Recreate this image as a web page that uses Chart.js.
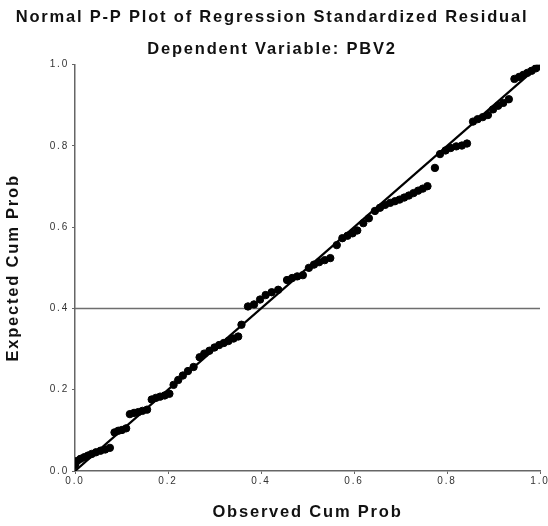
<!DOCTYPE html>
<html>
<head>
<meta charset="utf-8">
<script src="https://cdn.jsdelivr.net/npm/chart.js@4"></script>
<style>
  body { margin: 0; background: #fff; }
  #wrap { width: 548px; height: 526px; }
</style>
</head>
<body>
<div id="wrap"><canvas id="myChart" width="548" height="526"></canvas></div>
<script>
// Observed cum prob (x) and expected cum prob (y)
var observedCum = [
  0.000, 0.005, 0.012, 0.020, 0.028, 0.036, 0.045, 0.055, 0.065, 0.075,
  0.085, 0.093, 0.101, 0.110,
  0.118, 0.127, 0.136, 0.145, 0.155,
  0.165, 0.174, 0.183, 0.193, 0.203,
  0.212, 0.222, 0.232, 0.243, 0.255,
  0.268, 0.278, 0.289, 0.300, 0.310,
  0.320, 0.330, 0.341, 0.351,
  0.358, 0.372, 0.385, 0.398, 0.410, 0.423, 0.437,
  0.456, 0.467, 0.478, 0.490,
  0.503, 0.514, 0.525, 0.537, 0.549,
  0.563, 0.575, 0.586, 0.597, 0.607,
  0.620, 0.632, 0.645, 0.656, 0.667,
  0.678, 0.688, 0.698, 0.708, 0.718, 0.728, 0.738, 0.748, 0.758,
  0.774,
  0.785, 0.797, 0.808, 0.820, 0.832, 0.843,
  0.856, 0.866, 0.877, 0.888,
  0.899, 0.910, 0.921, 0.933,
  0.945, 0.955, 0.964, 0.973, 0.982, 0.991, 1.000
];
var expectedCum = [
  0.015, 0.025, 0.030, 0.034, 0.038, 0.042, 0.046, 0.050, 0.053, 0.057,
  0.095, 0.099, 0.101, 0.105,
  0.140, 0.143, 0.145, 0.148, 0.151,
  0.176, 0.180, 0.183, 0.186, 0.190,
  0.212, 0.224, 0.235, 0.246, 0.256,
  0.280, 0.289, 0.296, 0.304, 0.310,
  0.315, 0.320, 0.326, 0.331,
  0.360, 0.405, 0.410, 0.422, 0.433, 0.440, 0.446,
  0.470, 0.475, 0.479, 0.482,
  0.500, 0.508, 0.514, 0.519, 0.524,
  0.556, 0.573, 0.579, 0.585, 0.592,
  0.610, 0.622, 0.640, 0.648, 0.655,
  0.660, 0.664, 0.668, 0.673, 0.678, 0.684, 0.690, 0.695, 0.701,
  0.746,
  0.780, 0.789, 0.795, 0.799, 0.801, 0.806,
  0.860, 0.866, 0.871, 0.876,
  0.890, 0.899, 0.906, 0.915,
  0.965, 0.970, 0.975, 0.980, 0.985, 0.991, 0.996
];
var tickValues = [0.0, 0.2, 0.4, 0.6, 0.8, 1.0];
var refLineY = 0.4;

var points = [];
for (var i = 0; i < observedCum.length; i++) {
  points.push({ x: observedCum[i], y: expectedCum[i] });
}

// the original text is drawn a bit wider, so space the letters out
var spacingPlugin = {
  id: "spacing",
  beforeDraw: function(chart) {
    chart.ctx.letterSpacing = "1.8px";
  }
};

var ctx = document.getElementById("myChart");
var myChart = new Chart(ctx, {
  type: "scatter",
  plugins: [spacingPlugin],
  data: {
    datasets: [
      {
        label: "Residuals",
        data: points,
        backgroundColor: "#000",
        borderColor: "#000",
        pointRadius: 3.7,
        pointHoverRadius: 3.7
      },
      {
        // diagonal line
        label: "Diagonal",
        data: [{ x: 0, y: 0 }, { x: 1, y: 1 }],
        showLine: true,
        borderColor: "#000",
        borderWidth: 2.2,
        pointRadius: 0
      },
      {
        // reference line at 0.4
        label: "Reference",
        data: [{ x: 0, y: refLineY }, { x: 1, y: refLineY }],
        showLine: true,
        borderColor: "#6e6e6e",
        borderWidth: 1.5,
        pointRadius: 0
      }
    ]
  },
  options: {
    responsive: false,
    animation: false,
    layout: { padding: { left: 4, right: 8, top: 0, bottom: 4 } },
    plugins: {
      legend: { display: false },
      tooltip: { enabled: false },
      title: {
        display: true,
        text: ["Normal P-P Plot of Regression Standardized Residual", "Dependent Variable: PBV2"],
        color: "#111",
        font: { family: "'Liberation Sans', Arial, sans-serif", size: 16.5, weight: "bold", lineHeight: 1.9 },
        padding: { top: 2, bottom: 0 }
      }
    },
    scales: {
      x: {
        type: "linear",
        min: 0,
        max: 1,
        afterBuildTicks: function(scale) {
          scale.ticks = tickValues.map(function(v) { return { value: v }; });
        },
        ticks: {
          color: "#333",
          font: { family: "'Liberation Sans', Arial, sans-serif", size: 10 },
          padding: 1,
          maxRotation: 0,
          callback: function(v) { return Number(v).toFixed(1); }
        },
        grid: { drawOnChartArea: false, drawTicks: true, tickLength: 3, color: "#666" },
        border: { display: true, color: "#666", width: 1.5 },
        title: {
          display: true,
          text: "Observed Cum Prob",
          color: "#111",
          font: { family: "'Liberation Sans', Arial, sans-serif", size: 16.5, weight: "bold" },
          padding: { top: 14, bottom: 0 }
        },
        afterFit: function(scale) { scale.height = 51; }
      },
      y: {
        type: "linear",
        min: 0,
        max: 1,
        afterBuildTicks: function(scale) {
          scale.ticks = tickValues.map(function(v) { return { value: v }; });
        },
        ticks: {
          color: "#333",
          font: { family: "'Liberation Sans', Arial, sans-serif", size: 10 },
          padding: 3,
          callback: function(v) { return Number(v).toFixed(1); }
        },
        grid: { drawOnChartArea: false, drawTicks: true, tickLength: 3, color: "#666" },
        border: { display: true, color: "#666", width: 1.5 },
        title: {
          display: true,
          text: "Expected Cum Prob",
          color: "#111",
          font: { family: "'Liberation Sans', Arial, sans-serif", size: 16.5, weight: "bold" },
          padding: { top: 0, bottom: 14 }
        },
        afterFit: function(scale) { scale.width = 71; }
      }
    }
  }
});
</script>
</body>
</html>
